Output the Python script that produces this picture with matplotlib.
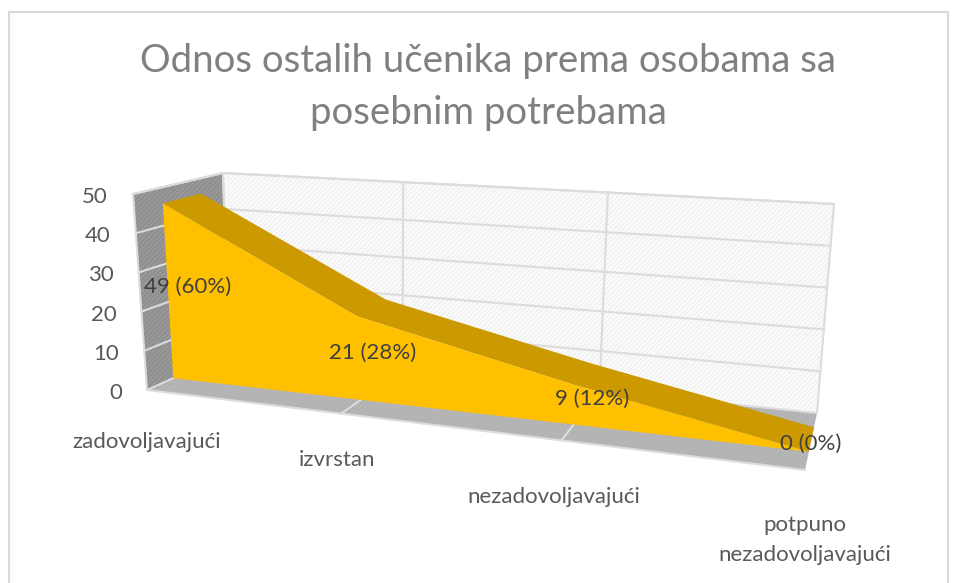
import matplotlib

matplotlib.use("Agg")
import matplotlib.pyplot as plt
import numpy as np

plt.rcParams["font.family"] = ["Lato", "DejaVu Sans"]

title = "Odnos ostalih učenika prema osobama sa\nposebnim potrebama"
categories = ["zadovoljavajući", "izvrstan", "nezadovoljavajući", "potpuno\nnezadovoljavajući"]
values = [49, 21, 9, 0]
point_labels = ["49 (60%)", "21 (28%)", "9 (12%)", "0 (0%)"]
y_ticks = [0, 10, 20, 30, 40, 50]

# layout of the 3D box, in image pixels
front_bottom = np.array([[147, 390], [805, 470]], float)
back_bottom = np.array([[229, 353], [817, 413]], float)
front_top = np.array([[133, 194], [790, 266]], float)
back_top = np.array([[223, 173], [834, 204]], float)
cat_pos = [0, 0.295, 0.63, 1]  # perspective spacing of the categories
depth_front, depth_back = 0.32, 0.75
label_xy = [(188, 287), (373, 353), (592, 399), (811, 444)]
cat_label_xy = [(147, 442), (337, 460), (554, 497), (805, 540)]


def project(u, d, v):
    """Box coordinates (along, depth, value) to pixels."""
    bot_f = front_bottom[0] + u * (front_bottom[1] - front_bottom[0])
    bot_b = back_bottom[0] + u * (back_bottom[1] - back_bottom[0])
    top_f = front_top[0] + u * (front_top[1] - front_top[0])
    top_b = back_top[0] + u * (back_top[1] - back_top[0])
    bot = bot_f + d * (bot_b - bot_f)
    top = top_f + d * (top_b - top_f)
    return bot + v / 50 * (top - bot)


def squeeze(u):
    # Excel draws the near end of the series a bit flatter
    return 0.935 + 0.29 * u


fig = plt.figure(figsize=(9.58, 5.83), dpi=100)
ax = fig.add_axes([0, 0, 1, 1])
ax.set_xlim(0, 958)
ax.set_ylim(583, 0)
ax.axis("off")

# chart frame
ax.plot([9, 9, 948, 948], [583, 12, 12, 583], color="#d9d9d9", lw=1.5)

ax.text(488, 87, title, color="#808080", fontsize=27.6, ha="center", va="center", linespacing=1.56)

plt.rcParams["hatch.linewidth"] = 0.5
wall = [project(0, 1, 0), project(1, 1, 0), project(1, 1, 50), project(0, 1, 50)]
ax.fill(*zip(*wall), facecolor="#fbfbfb", edgecolor="#e6e6e6", hatch="///////", lw=0)
side = [project(0, 0, 0), project(0, 1, 0), project(0, 1, 50), project(0, 0, 50)]
ax.fill(*zip(*side), facecolor="#8f8f8f", edgecolor="#a6a6a6", hatch="///////", lw=0)
floor = [project(0, 0, 0), project(1, 0, 0), project(1, 1, 0), project(0, 1, 0)]
ax.fill(*zip(*floor), facecolor="#b2b2b2", edgecolor="#bcbcbc", hatch="///////", lw=0)

# gridlines on walls
grid = dict(color="#dcdcdc", lw=1.5, solid_capstyle="round", zorder=1.5)
for t in y_ticks:
    pts = [project(0, 0, t), project(0, 1, t), project(1, 1, t)]
    if t == 0:
        pts = [project(0, 1, t)]
    ax.plot(*zip(*pts), **grid)
    ax.text(*(project(0, 0, t) + [-25, 3]), str(t), color="#595959", fontsize=16, ha="right", va="center")
for u in cat_pos[1:3]:
    ax.plot(*zip(project(u, 0, 0), project(u, 1, 0), project(u, 1, 50)), **grid)
for pts in (wall, side):
    ax.plot(*zip(*pts, pts[0]), **grid)
ax.plot(*zip(project(0, 0, 0), project(1, 0, 0)), **grid)

# series: top strip, then front face
front = [project(u, depth_front, v * squeeze(u)) for u, v in zip(cat_pos, values)]
back = [project(u, depth_back, v * squeeze(u)) for u, v in zip(cat_pos, values)]
ax.fill(*zip(*front, *back[::-1]), color="#cc9a00", lw=0, zorder=3)
ax.fill(*zip(*front, project(1, depth_front, 0), project(0, depth_front, 0)), color="#ffc000", lw=0, zorder=3)

for (x, y), s in zip(label_xy, point_labels):
    ax.text(x, y, s, color="#404040", fontsize=16, ha="center", va="center", zorder=4)
for (x, y), s in zip(cat_label_xy, categories):
    ax.text(x, y, s, color="#595959", fontsize=16, ha="center", va="center", linespacing=1.65)

fig.savefig("out.png", dpi=100)
